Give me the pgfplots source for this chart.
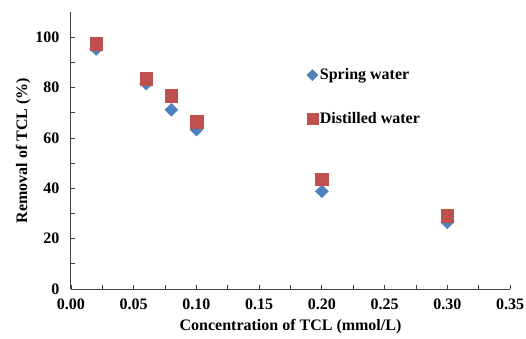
\documentclass[border=0pt]{standalone}
\usepackage{fontspec}
\setmainfont{Liberation Serif}
\usepackage{pgfplots}
\pgfplotsset{compat=1.18}
\definecolor{sblue}{HTML}{4F81BD}
\definecolor{sred}{HTML}{C0504D}
\begin{document}
\begin{tikzpicture}
\path[use as bounding box] (-71pt,-50pt) rectangle (455pt,289pt);
\begin{axis}[
  at={(0,0)}, anchor=south west,
  scale only axis, width=439pt, height=277pt,
  xmin=0, xmax=0.35, ymin=0, ymax=110,
  axis x line*=bottom, axis y line*=left,
  axis line style={draw=black!75, line width=1pt},
  xtick={0,0.05,...,0.35}, ytick={0,20,...,100},
  minor x tick num=1, minor y tick num=1,
  tick align=inside,
  tick style={draw=black!75, line width=0.8pt},
  major tick length=4pt, minor tick length=4pt,
  /pgf/number format/assume math mode=true,
  xticklabel={\pgfmathprintnumber[fixed,fixed zerofill,precision=2]{\tick}},
  yticklabel={\pgfmathprintnumber[fixed]{\tick}},
  tick label style={font=\fontsize{16}{18}\selectfont\bfseries},
  xticklabel style={yshift=-6pt},
  yticklabel style={xshift=-8pt},
  label style={font=\fontsize{16}{18}\selectfont\bfseries},
  xlabel={Concentration of TCL (mmol/L)},
  ylabel={Removal of TCL (\%)},
  xlabel style={yshift=-3pt},
  ylabel style={yshift=-2pt},
  legend style={draw=none, fill=none, at={(0.53,0.81)}, anchor=north west,
    row sep=27pt, font=\fontsize{16}{18}\selectfont\bfseries,
    nodes={inner sep=2pt}},
  legend cell align=left,
  legend image post style={xshift=-1pt, scale=0.85},
]
\addplot[only marks, mark=square*, mark size=4.6pt, mark options={rotate=45, fill=sblue, draw=sblue}]
  coordinates {(0.02,95.3) (0.06,81.6) (0.08,71.2) (0.10,63.3) (0.20,38.8) (0.30,26.5)};
\addlegendentry{Spring water}
\addplot[only marks, mark=square*, mark size=6.3pt, mark options={fill=sred, draw=sred}]
  coordinates {(0.02,97.5) (0.06,83.4) (0.08,76.7) (0.10,66.4) (0.20,43.6) (0.30,29.2)};
\addlegendentry{Distilled water}
\end{axis}
\end{tikzpicture}
\end{document}
